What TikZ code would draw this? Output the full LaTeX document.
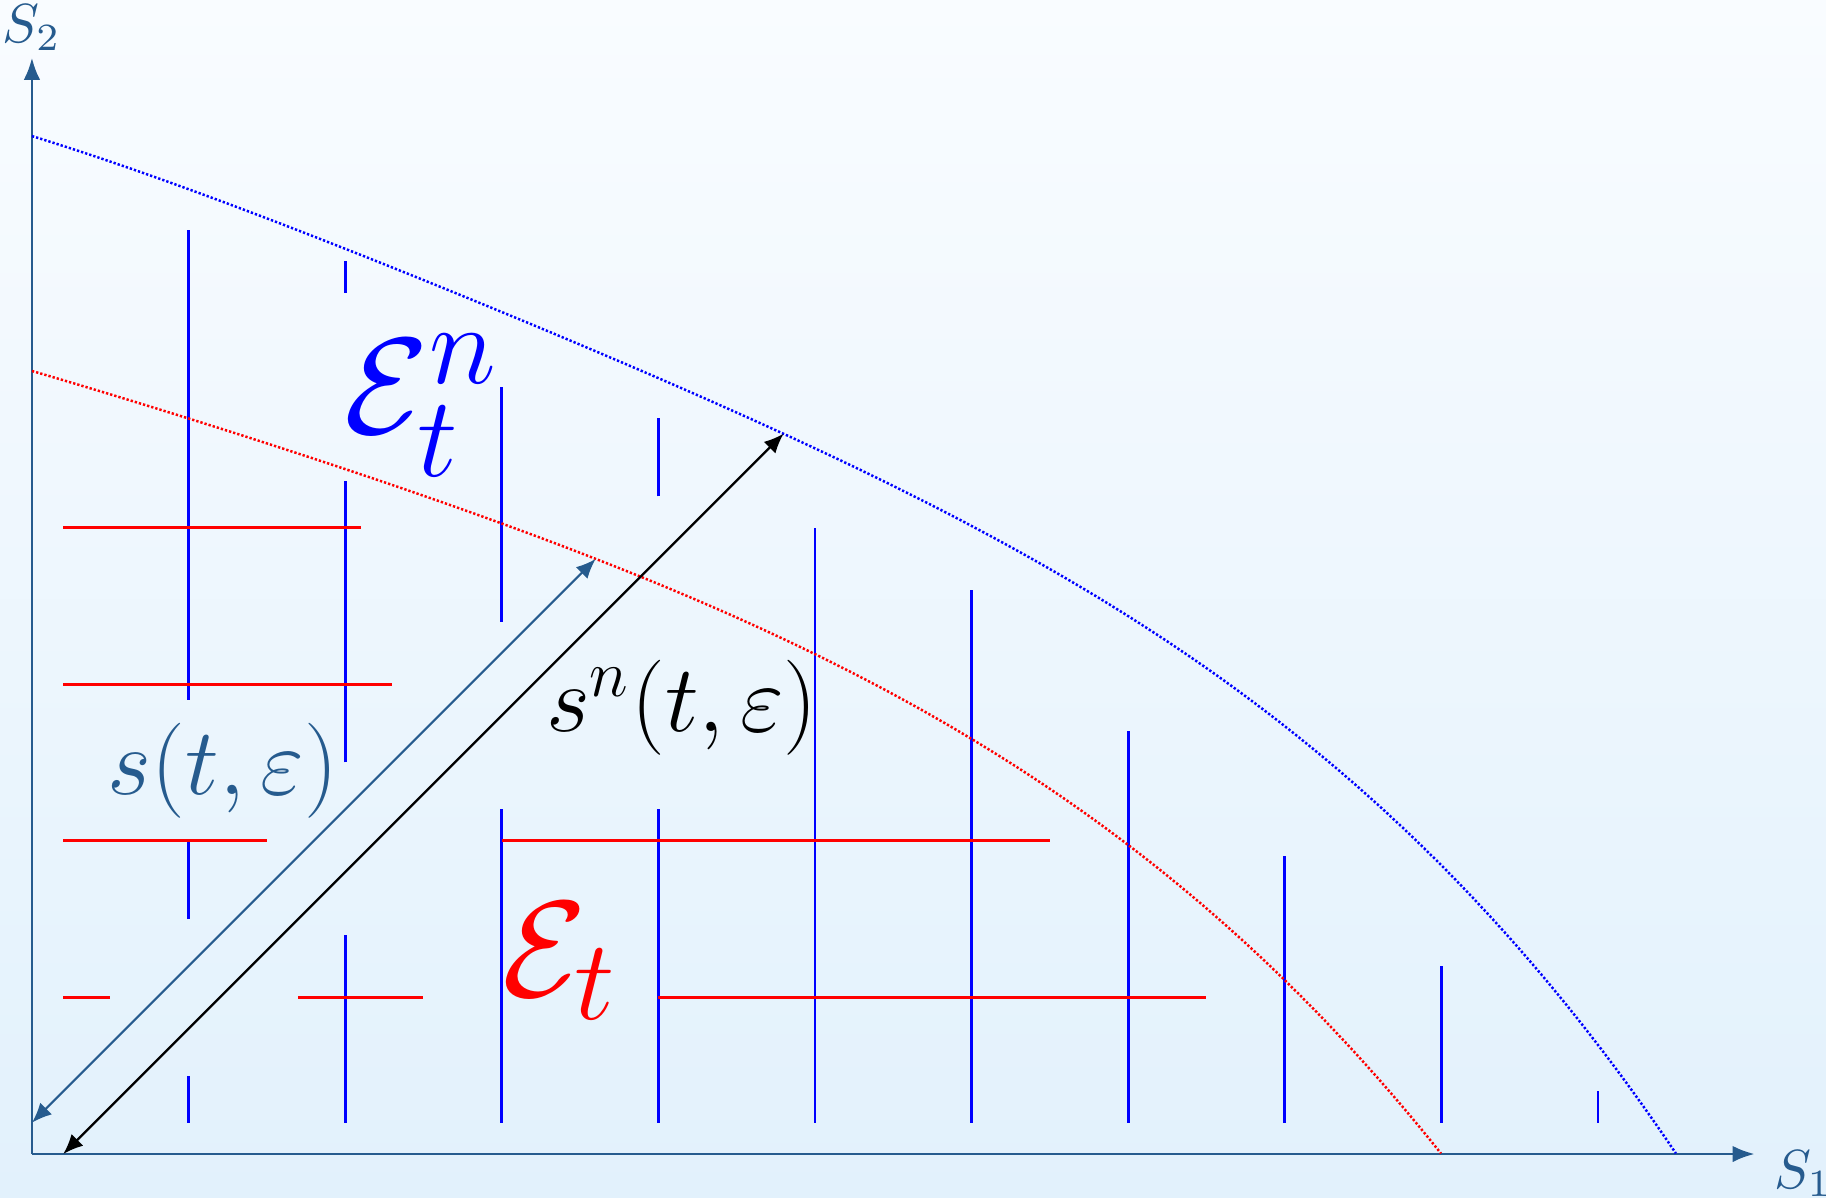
\documentclass[tikz,border=0pt]{standalone}
\usepackage{amsmath,amssymb}
\usepackage{xcolor}
\usepackage{tikz}
\usetikzlibrary{arrows.meta}
\definecolor{structblue}{RGB}{38,91,142}
\definecolor{bgtop}{RGB}{249,252,255}
\definecolor{bgbottom}{RGB}{226,241,252}

\begin{document}
\begin{tikzpicture}[
    axis/.style={structblue, line width=0.5pt, -{Latex[length=4pt,width=3pt]}},
    twoway/.style={{Latex[length=3.6pt,width=3pt]}-{Latex[length=3.6pt,width=3pt]}},
    vbar/.style={blue, line width=0.5pt},
    hbar/.style={red, line width=0.5pt},
    border/.style={line width=0.45pt, dash pattern=on 0.42pt off 0.36pt},
    declare function={
        redf(\t)=1-0.527*\t-0.19*\t^2+0.22*\t^3-0.503*\t^4;
        bluef(\t)=1-0.5*\t-0.6*\t^2+1.1*\t^3-\t^4;
    }
]
\shade[top color=bgtop, bottom color=bgbottom] (-0.204,-0.275) rectangle (11.456,7.369);
\useasboundingbox (-0.204,-0.275) rectangle (11.456,7.369);

\coordinate (O) at (0,0);
\coordinate (xend) at (11,0);
\coordinate (yend) at (0,7);
\draw[axis] (O) -- (xend);
\draw[axis] (O) -- (yend);
\node[text=structblue, anchor=base west] (s1) at (11,-0.22) {$S_1$};
\node[text=structblue, anchor=base] (s2) at (0,7.1) {$S_2$};

\foreach \x/\a/\b in {1/0.2/0.5, 1/1.5/2, 1/2.9/5.9, 2/0.2/1.4, 2/2.5/4.3, 2/5.5/5.7,
    3/0.2/2.2, 3/3.4/4.9, 4/0.2/2.2, 4/4.2/4.7, 5/0.2/4, 6/0.2/3.6,
    7/0.2/2.7, 8/0.2/1.9, 9/0.2/1.2, 10/0.2/0.4}
    \draw[vbar] (\x,\a) -- (\x,\b);
\foreach \y/\a/\b in {4/0.2/2.1, 3/0.2/2.3, 2/0.2/1.5, 2/3/6.5,
    1/0.2/0.5, 1/1.7/2.5, 1/4/7.5}
    \draw[hbar] (\a,\y) -- (\b,\y);

\draw[blue, border] plot[domain=0:10.5, samples=200] (\x,{6.5*bluef(\x/10.5)});
\draw[red, border] plot[domain=0:9, samples=200] (\x,{5*redf(\x/9)});

\coordinate (a1) at (0.2,0);
\coordinate (a2) at (4.8,4.6);
\coordinate (b1) at (0,0.2);
\coordinate (b2) at (3.6,3.8);
\draw[twoway] (a1) -- (a2);
\draw[structblue, twoway] (b1) -- (b2);

\node[text=blue, font=\Huge] (Etn) at (2.49,4.78) {$\mathcal{E}_t^n$};
\node[text=red, font=\Huge] (Et) at (3.37,1.23) {$\mathcal{E}_t$};
\node[text=structblue, font=\LARGE] (s) at (1.22,2.45) {$s(t,\varepsilon)$};
\node[font=\LARGE] (sn) at (4.15,2.85) {$s^n(t,\varepsilon)$};
\end{tikzpicture}
\end{document}
